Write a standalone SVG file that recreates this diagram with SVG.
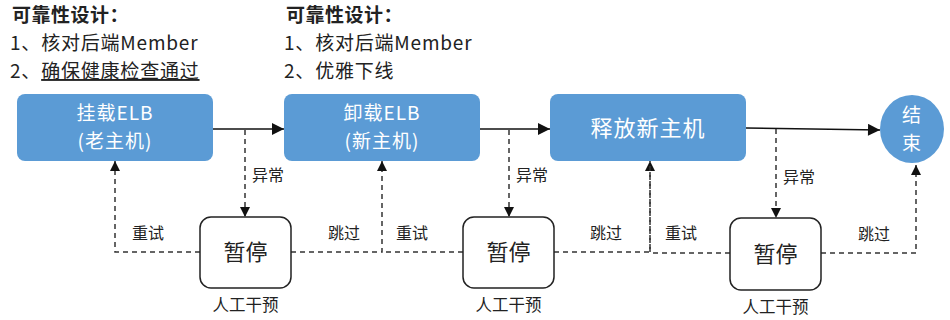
<svg xmlns="http://www.w3.org/2000/svg" width="950" height="320" viewBox="0 0 950 320">
<style>
text{font-family:"Noto Sans CJK SC","Microsoft YaHei",sans-serif;}
.note{font-size:19px;fill:#222;letter-spacing:0.8px;}
.title{font-size:19px;font-weight:bold;fill:#222;letter-spacing:0.5px;}
.step{fill:#5B9BD5;}
.stxt{font-size:19px;fill:#fff;text-anchor:middle;letter-spacing:1px;}
.pause{fill:#fff;stroke:#222;stroke-width:1.5;}
.ptxt{font-size:22px;fill:#222;text-anchor:middle;}
.lbl{font-size:16px;fill:#222;}
.sub{font-size:16.5px;fill:#222;text-anchor:middle;}
.solid{fill:none;stroke:#111;stroke-width:1.6;}
.dash{fill:none;stroke:#333;stroke-width:1.5;stroke-dasharray:5 4;}
</style>
<defs>
<marker id="ah" viewBox="0 0 10 10" refX="10" refY="5" markerWidth="10" markerHeight="10" markerUnits="userSpaceOnUse" orient="auto"><path d="M0,0 L10,5 L0,10 z" fill="#111"/></marker>
<marker id="ahL" viewBox="0 0 10 10" refX="10" refY="5" markerWidth="14" markerHeight="12" markerUnits="userSpaceOnUse" orient="auto"><path d="M0,0 L10,5 L0,10 z" fill="#111"/></marker>
</defs>
<g id="note1">
<text class="title" x="12" y="22">可靠性设计：</text>
<text class="note" x="10" y="50">1、核对后端Member</text>
<text class="note" x="10" y="78">2、<tspan text-decoration="underline">确保健康检查通过</tspan></text>
</g>
<g id="note2">
<text class="title" x="286" y="22">可靠性设计：</text>
<text class="note" x="284" y="50">1、核对后端Member</text>
<text class="note" x="284" y="78">2、优雅下线</text>
</g>
<g id="connectors">
<path class="solid" d="M213,129 L284,129" marker-end="url(#ahL)"/>
<path class="solid" d="M480,129 L550,129" marker-end="url(#ahL)"/>
<path class="solid" d="M746,128 L880,130" marker-end="url(#ahL)"/>
<path class="dash" d="M245,130 L245,217" marker-end="url(#ah)"/>
<path class="dash" d="M509,130 L509,217" marker-end="url(#ah)"/>
<path class="dash" d="M776,129 L776,218" marker-end="url(#ah)"/>
<path class="dash" d="M200,252 L115,252 L115,161" marker-end="url(#ah)"/>
<path class="dash" d="M291,252 L382,252 L382,161" marker-end="url(#ah)"/>
<path class="dash" d="M463,252 L382,252"/>
<path class="dash" d="M554,252 L650,252 L650,161" marker-end="url(#ah)"/>
<path class="dash" d="M730,253 L650,253 L650,161"/>
<path class="dash" d="M821,253 L916,253 L916,165" marker-end="url(#ah)"/>
<text class="lbl" x="252" y="181">异常</text>
<text class="lbl" x="516" y="181">异常</text>
<text class="lbl" x="783" y="183">异常</text>
<text class="lbl" x="132" y="239">重试</text>
<text class="lbl" x="328" y="239">跳过</text>
<text class="lbl" x="396" y="239">重试</text>
<text class="lbl" x="590" y="239">跳过</text>
<text class="lbl" x="665" y="239">重试</text>
<text class="lbl" x="858" y="240">跳过</text>
</g>
<g id="step1">
<rect class="step" x="17" y="94" width="196" height="67" rx="8"/>
<text class="stxt" x="115" y="120">挂载ELB</text>
<text class="stxt" x="115" y="148">(老主机)</text>
</g>
<g id="step2">
<rect class="step" x="284" y="94" width="196" height="67" rx="8"/>
<text class="stxt" x="382" y="120">卸载ELB</text>
<text class="stxt" x="382" y="148">(新主机)</text>
</g>
<g id="step3">
<rect class="step" x="550" y="94" width="196" height="67" rx="8"/>
<text class="stxt" x="648" y="136" style="font-size:22px">释放新主机</text>
</g>
<g id="end">
<ellipse class="step" cx="912" cy="129" rx="32" ry="34"/>
<text class="stxt" x="912" y="122">结</text>
<text class="stxt" x="912" y="150">束</text>
</g>
<g id="pause1">
<rect class="pause" x="200" y="217" width="91" height="71" rx="11"/>
<text class="ptxt" x="245.5" y="260">暂停</text>
<text class="sub" x="245.5" y="311">人工干预</text>
</g>
<g id="pause2">
<rect class="pause" x="463" y="217" width="91" height="71" rx="11"/>
<text class="ptxt" x="508.5" y="260">暂停</text>
<text class="sub" x="508.5" y="311">人工干预</text>
</g>
<g id="pause3">
<rect class="pause" x="730" y="218" width="91" height="72" rx="11"/>
<text class="ptxt" x="775.5" y="262">暂停</text>
<text class="sub" x="775.5" y="313">人工干预</text>
</g>
</svg>
